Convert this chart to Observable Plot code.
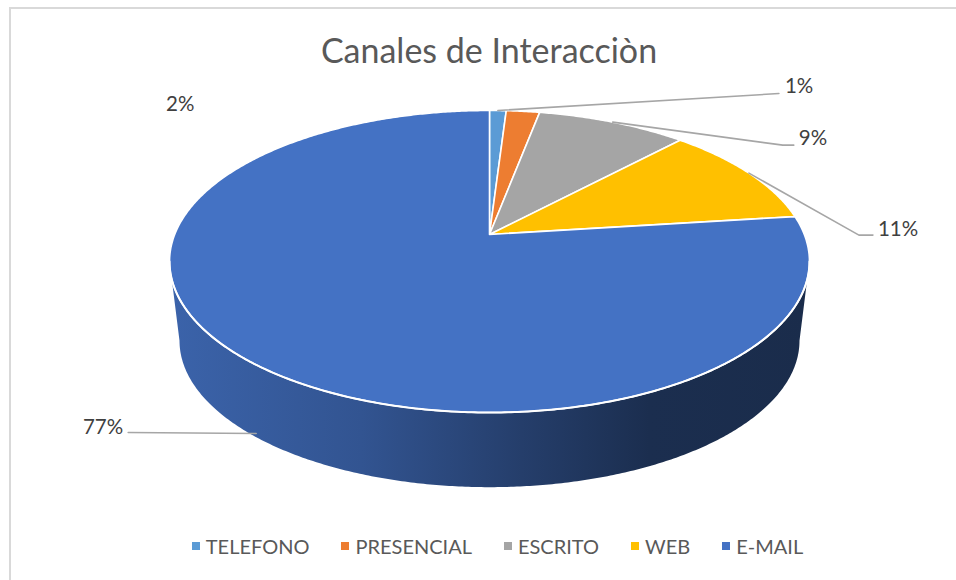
<!DOCTYPE html>
<html>
<head>
<meta charset="utf-8">
<script src="https://cdn.jsdelivr.net/npm/d3@7"></script>
<script src="https://cdn.jsdelivr.net/npm/@observablehq/plot@0.6"></script>
<style>
  html, body { margin: 0; padding: 0; background: #fff; }
  #wrap { position: relative; width: 956px; height: 580px; overflow: hidden; font-family: Lato, "Open Sans", sans-serif; }
  #frame { position: absolute; left: 9px; top: 7px; width: 1000px; height: 700px; border-top: 2px solid #d9d9d9; border-left: 2px solid #d9d9d9; }
  #title { position: absolute; left: 0; top: 30px; width: 978px; text-align: center; font-size: 34px; line-height: 40px; color: #595959; }
  #chart { position: absolute; left: 0; top: 80px; }
  #legend { position: absolute; left: 0; top: 533px; width: 995px; display: flex; justify-content: center; align-items: center; font-size: 20px; line-height: 26px; color: #595959; }
  .item { display: flex; align-items: center; margin: 0 16px; }
  .sw { width: 8px; height: 8px; margin-right: 6px; }
</style>
</head>
<body>
<div id="wrap">
  <div id="frame"></div>
  <div id="title">Canales de Interacciòn</div>
  <div id="chart"></div>
  <div id="legend"></div>
</div>
<script>
// ---- data ----
const categories = ["TELEFONO", "PRESENCIAL", "ESCRITO", "WEB", "E-MAIL"];
const values = [1, 2, 9, 11, 77];
const labels = ["1%", "2%", "9%", "11%", "77%"];
const colors = ["#5b9bd5", "#ed7d31", "#a5a5a5", "#ffc000", "#4472c4"];

// ---- layout (perspective of the tilted pie, in page pixels) ----
const CX = 489, CY = 234;          // projected centre of the pie top
const A = 314.8, B = 146.2, K = 0.1788; // top face radii + perspective factor
const BA = 305, BB = 141.8, DEPTH = 80;  // bottom face
const TOP = 80, H = 440;           // SVG occupies page y 80..520

// label layout: offsets from each slice's anchor point
const labelLayout = [
  {dx: 281, dy: -17, h: 0,  tx: 6,  ty: -7, leader: true,  anchor: "start"},
  {dx: -357, dy: -7, h: 0,  tx: 0,  ty: 0,  leader: false, anchor: "start"},
  {dx: 170, dy: 23,  h: 11, tx: 5,  ty: -7, leader: true,  anchor: "start"},
  {dx: 110, dy: 62,  h: 14, tx: 5,  ty: -6, leader: true,  anchor: "start"},
  {dx: -128, dy: -1, h: 0,  tx: -5, ty: -5, leader: true,  anchor: "end"}
];

function proj(t, face) {
  const u = Math.sin(t), v = -Math.cos(t), w = 1 - K * v;
  if (face === "bottom") return [CX + BA * u / w, CY + DEPTH + BB * v / w];
  return [CX + A * u / w, CY + B * v / w];
}

const total = d3.sum(values);
let acc = 0;
const slices = categories.map((c, i) => {
  const a0 = acc / total * 2 * Math.PI;
  acc += values[i];
  const a1 = acc / total * 2 * Math.PI;
  return {cat: c, i, a0, a1};
});

// top face polygons
const topPts = [];
for (const s of slices) {
  const n = Math.max(4, Math.ceil((s.a1 - s.a0) / (Math.PI / 360)));
  topPts.push({cat: s.cat, x: CX, y: CY});
  for (let j = 0; j <= n; j++) {
    const t = s.a0 + (s.a1 - s.a0) * j / n;
    const [x, y] = proj(t);
    topPts.push({cat: s.cat, x, y});
  }
}

// visible side (front) polygons
const tR = Math.acos(-K), tL = 2 * Math.PI - tR;
const sidePts = [];
const frontRim = [];
for (const s of slices) {
  const b0 = Math.max(s.a0, tR), b1 = Math.min(s.a1, tL);
  if (b1 <= b0) continue;
  const n = Math.ceil((b1 - b0) / (Math.PI / 360));
  const upper = [], lower = [];
  for (let j = 0; j <= n; j++) {
    const t = b0 + (b1 - b0) * j / n;
    upper.push(proj(t)); lower.push(proj(t, "bottom"));
  }
  for (const [x, y] of upper) { sidePts.push({cat: s.cat, i: s.i, x, y}); frontRim.push({cat: s.cat, x, y}); }
  for (const [x, y] of lower.reverse()) sidePts.push({cat: s.cat, i: s.i, x, y});
}

// anchors & labels
const leaders = [], texts = [];
slices.forEach((s, i) => {
  const m = (s.a0 + s.a1) / 2;
  let [ax, ay] = proj(m);
  if (m > tR && m < tL) {
    const [bx, by] = proj(m, "bottom");
    ax = ax + 0.95 * (bx - ax); ay = ay + 0.95 * (by - ay);
  }
  const L = labelLayout[i];
  const ex = ax + L.dx, ey = ay + L.dy;
  const hx = ex + (L.dx < 0 ? -L.h : L.h);
  if (L.leader) {
    leaders.push({k: i, x: ax, y: ay}, {k: i, x: ex, y: ey}, {k: i, x: hx, y: ey});
  }
  texts.push({x: hx + L.tx, y: ey + L.ty, label: labels[i], anchor: L.anchor});
});

const xL = proj(tL)[0], xR = proj(tR)[0];

const defs = () => {
  const ns = "http://www.w3.org/2000/svg";
  const d = document.createElementNS(ns, "defs");
  slices.forEach(s => {
    const g = document.createElementNS(ns, "linearGradient");
    g.setAttribute("id", "side" + s.i);
    g.setAttribute("gradientUnits", "userSpaceOnUse");
    g.setAttribute("x1", xL); g.setAttribute("x2", xR);
    g.setAttribute("y1", 0); g.setAttribute("y2", 0);
    const base = d3.color(colors[s.i]);
    [[0, 0.4], [0.3, 0.85], [0.55, 1.7], [0.75, 2.55], [1, 2.7]].forEach(([o, k]) => {
      const st = document.createElementNS(ns, "stop");
      st.setAttribute("offset", o);
      st.setAttribute("stop-color", base.darker(k).formatHex());
      g.appendChild(st);
    });
    d.appendChild(g);
  });
  return d;
};

const chart = Plot.plot({
  width: 956,
  height: H,
  margin: 0,
  style: {background: "transparent", overflow: "visible"},
  x: {domain: [0, 956], range: [0, 956], axis: null},
  y: {domain: [TOP, TOP + H], range: [0, H], axis: null},
  color: {domain: categories, range: colors},
  marks: [
    defs,
    Plot.line(sidePts, {x: "x", y: "y", z: "cat", fill: d => `url(#side${d.i})`, stroke: "none", curve: "linear-closed"}),
    Plot.line(topPts, {x: "x", y: "y", z: "cat", fill: "cat", stroke: "white", strokeWidth: 1.6, strokeLinejoin: "round", curve: "linear-closed"}),
    Plot.line(frontRim, {x: "x", y: "y", z: "cat", stroke: "white", strokeWidth: 2}),
    Plot.line(leaders, {x: "x", y: "y", z: "k", stroke: "#a6a6a6", strokeWidth: 1.6}),
    Plot.text(texts, {x: "x", y: "y", text: "label", fontSize: 20.5, fill: "#404040", fontFamily: "Lato, sans-serif", lineAnchor: "middle"})
  ]
});
document.getElementById("chart").appendChild(chart);
const tEls = chart.querySelectorAll("g[aria-label=text] text");
tEls.forEach((el, i) => { el.setAttribute("text-anchor", texts[i].anchor); });

// legend
const leg = d3.select("#legend");
categories.forEach((c, i) => {
  const it = leg.append("div").attr("class", "item");
  it.append("div").attr("class", "sw").style("background", colors[i]);
  it.append("span").text(c);
});
</script>
</body>
</html>
